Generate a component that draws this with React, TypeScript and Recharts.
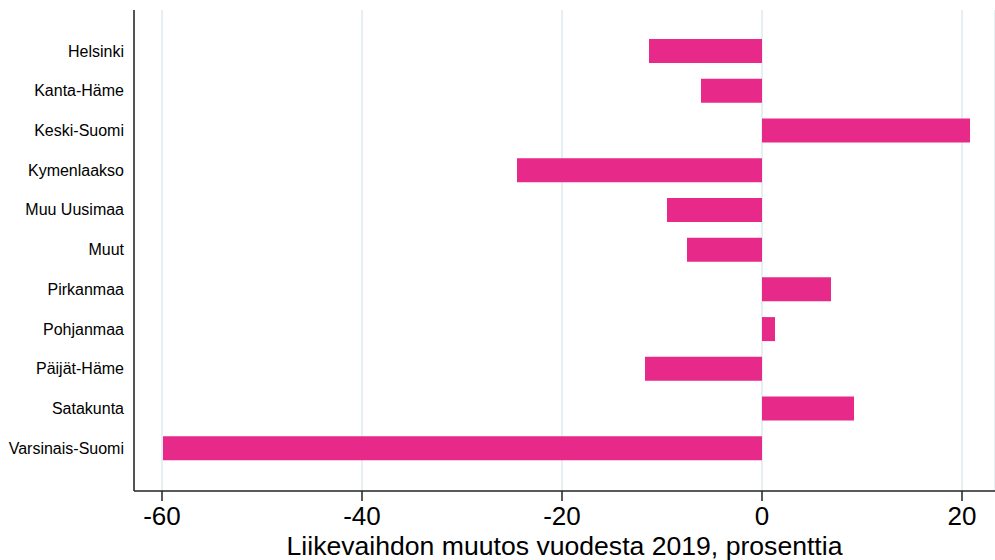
import { BarChart, Bar, XAxis, YAxis, CartesianGrid } from "recharts";

const REGIONS = [
  "Helsinki",
  "Kanta-Häme",
  "Keski-Suomi",
  "Kymenlaakso",
  "Muu Uusimaa",
  "Muut",
  "Pirkanmaa",
  "Pohjanmaa",
  "Päijät-Häme",
  "Satakunta",
  "Varsinais-Suomi",
];

const CHANGE_PCT = [-11.3, -6.1, 20.8, -24.5, -9.5, -7.5, 6.9, 1.3, -11.7, 9.2, -59.9];

const X_TICKS = [-60, -40, -20, 0, 20];

const data = REGIONS.map((name, i) => ({ name, value: CHANGE_PCT[i] }));

export default function App() {
  return (
    <div style={{ position: "absolute", left: 0, top: 0, background: "#fff" }}>
      <BarChart
        width={995}
        height={560}
        data={data}
        layout="vertical"
        margin={{ top: 10, right: 0, left: 0, bottom: 0 }}
        style={{ fontFamily: "'Liberation Sans', Arial, sans-serif" }}
      >
        <CartesianGrid
          horizontal={false}
          stroke="#e6eff2"
          strokeWidth={2}
        />
        <XAxis
          type="number"
          domain={[-62.8, 23.3]}
          ticks={X_TICKS}
          allowDataOverflow
          height={69}
          tickSize={10}
          tickMargin={6}
          tick={{ fontSize: 26, fill: "#000" }}
          stroke="#222"
          axisLine={{ stroke: "#222", strokeWidth: 1.5 }}
          tickLine={{ stroke: "#222", strokeWidth: 1.5 }}
          label={{
            value: "Liikevaihdon muutos vuodesta 2019, prosenttia",
            position: "insideBottom",
            offset: 5,
            fontSize: 26.6,
            fill: "#000",
          }}
        />
        <YAxis
          type="category"
          dataKey="name"
          width={134}
          tickLine={false}
          tickMargin={4}
          interval={0}
          padding={{ top: 21, bottom: 23 }}
          tick={{ fontSize: 16, fill: "#000" }}
          axisLine={{ stroke: "#222", strokeWidth: 1.5 }}
        />
        <Bar dataKey="value" fill="#e7298a" barSize={24} isAnimationActive={false} />
      </BarChart>
    </div>
  );
}
